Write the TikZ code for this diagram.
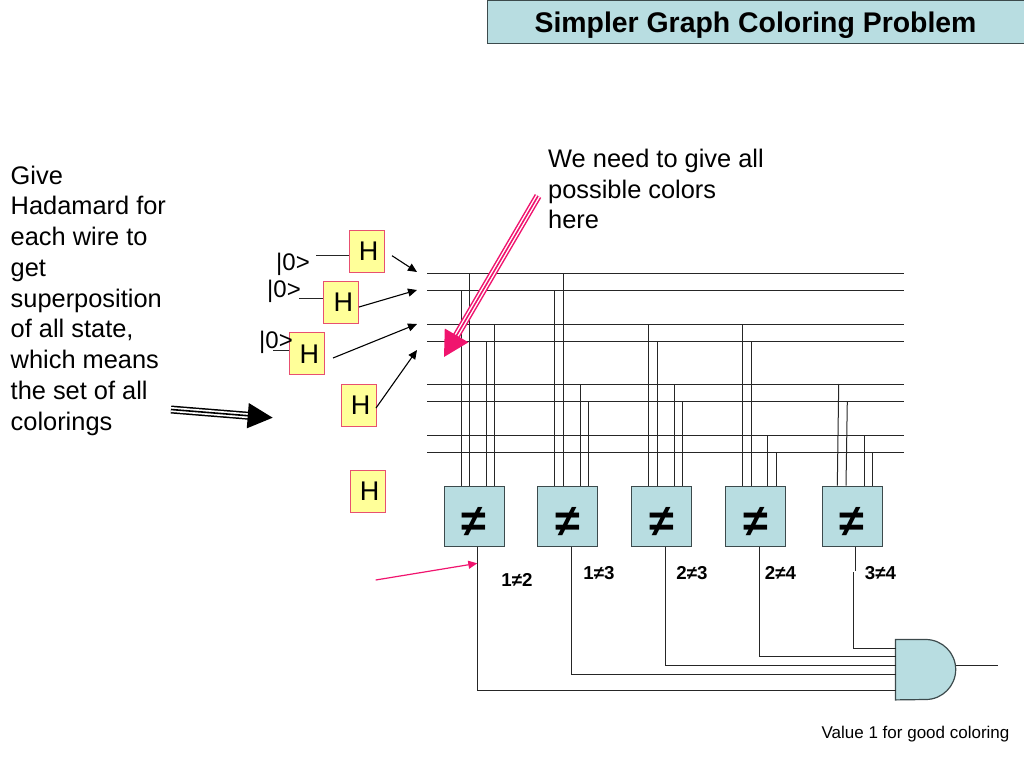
\documentclass[tikz,border=0pt]{standalone}
\usepackage{fontspec}
\setmainfont{Liberation Sans}
\usetikzlibrary{arrows.meta}
\definecolor{cBlock}{HTML}{B8DDE1}
\definecolor{cHada}{HTML}{FFFF99}
\definecolor{cPink}{HTML}{F0146E}
\definecolor{cRim}{HTML}{E85070}
\definecolor{cEdge}{HTML}{3C4A4C}
\newcommand{\bigNe}{\raisebox{-20pt}[0pt][0pt]{≠}}
\begin{document}
\begin{tikzpicture}[x=1pt,y=-1pt]
    \tikzstyle{block} = [ shape=rectangle, draw=cEdge, fill=cBlock, line width=1pt, minimum size=60pt, inner sep=0pt, font=\fontsize{45}{45}\selectfont\bfseries ];
    \tikzstyle{hada} = [ shape=rectangle, draw=cRim, fill=cHada, line width=1pt, minimum width=35pt, minimum height=42pt, inner sep=0pt, font=\fontsize{27}{27}\selectfont, execute at begin node=\hspace*{4pt} ];
    \tikzstyle{txt} = [ anchor=west, align=left, inner sep=0pt, font=\fontsize{25.4}{30.75}\selectfont ];
    \tikzstyle{ket} = [ anchor=west, inner sep=0pt, font=\fontsize{24}{24}\selectfont ];
    \tikzstyle{lbl} = [ anchor=base, inner sep=0pt, font=\fontsize{18.7}{19}\selectfont\bfseries ];
    \tikzstyle{wire} = [ draw=black!85, line width=1pt ];
    \tikzstyle{arr} = [ ->, >={Triangle[length=9pt,width=8pt]}, black, line width=1.1pt ];
    \useasboundingbox (0,0) rectangle (1024,768);

    \node (nTitle) [shape=rectangle, draw=cEdge, fill=cBlock, line width=1pt, minimum width=538pt, minimum height=43pt, inner sep=0pt, text depth=0pt, anchor=north west, font=\fontsize{28.4}{29}\selectfont\bfseries] at (487,0) {\hspace*{-2pt}Simpler Graph Coloring Problem};
    \node (nGive) [txt] at (10.5,300.5) {Give\\Hadamard for\\each wire to\\get\\superposition\\of all state,\\which means\\the set of all\\colorings};
    \node (nNeed) [txt] at (548,189) {We need to give all\\possible colors\\here};

    % the eight wires
    \foreach \y [count=\i] in {273,290,324,341,384,401,435,452} {
        \coordinate (wL\i) at (427,\y);
        \coordinate (wR\i) at (904,\y);
        \draw [wire] (wL\i) -- (wR\i);
    }

    \node (nNe1) [block] at (474,516) {\bigNe};
    \node (nNe2) [block, right of = nNe1, node distance = 93.7pt] {\bigNe};
    \node (nNe3) [block, right of = nNe2, node distance = 94pt] {\bigNe};
    \node (nNe4) [block, right of = nNe3, node distance = 94pt] {\bigNe};
    \node (nNe5) [block, right of = nNe4, node distance = 96.4pt] {\bigNe};

    \foreach \xa/\xb/\w/\b in {461/461/2/1,469.3/469.3/1/1,486.3/486.3/4/1,494.7/494.7/3/1,
        554.7/554.7/2/2,563.3/563.3/1/2,580/580/5/2,588.5/588.5/6/2,
        648.7/648.7/3/3,657/657/4/3,674/674/5/3,682.7/682.7/6/3,
        742.3/742.3/3/4,751/751/4/4,767.7/767.7/7/4,776.3/776.3/8/4,
        838.7/837.3/5/5,847.3/846/6/5,864.3/864.3/7/5,872.7/872.7/8/5} {
        \draw [wire] (\xa,0 |- wL\w) -- (\xb,0 |- nNe\b.north);
    }

    % H gates and their inputs
    \node (nH1) [hada] at (366.7,251.3) {H};
    \node (nH2) [hada] at (341.3,302.5) {H};
    \node (nH3) [hada] at (307.3,353.8) {H};
    \node (nH4) [hada] at (358.5,405.5) {H};
    \node (nH5) [hada] at (367.5,491) {H};
    \node (nKet1) [ket] at (276,264) {|0>};
    \node (nKet2) [ket] at (267,291) {|0>};
    \node (nKet3) [ket] at (259,342) {|0>};
    \coordinate (cIn1) at (316,255.7);
    \coordinate (cIn2) at (299,298.3);
    \coordinate (cIn3) at (273,350);
    \draw [wire] (cIn1) -- (cIn1 -| nH1.west);
    \draw [wire] (cIn2) -- (cIn2 -| nH2.west);
    \draw [wire] (cIn3) -- (cIn3 -| nH3.west);

    \coordinate (cS1) at (392,255.7);
    \coordinate (cE1) at (417,272);
    \coordinate (cS2) at (359,307);
    \coordinate (cE2) at (417,290);
    \coordinate (cS3) at (333,358);
    \coordinate (cE3) at (417,324);
    \coordinate (cS4) at (376,408);
    \coordinate (cE4) at (417,350);
    \foreach \i in {1,2,3,4} {
        \draw [arr] (cS\i) -- (cE\i);
    }

    % outputs into the AND gate
    \node (nAnd) [shape=rectangle, minimum size=60pt, inner sep=0pt] at (925.7,669.7) {};
    \draw [fill=cBlock, draw=cEdge, line width=1.2pt] (nAnd.north west) -- (nAnd.north) arc (90:-90:30pt) -- (nAnd.south west) -- cycle;
    \foreach \x/\y/\b in {477.7/690.7/1,571.7/674/2,665.7/665.3/3,759.3/656.7/4} {
        \draw [wire] (\x,0 |- nNe\b.south) |- (nAnd.west |- 0,\y);
    }
    \coordinate (cBreakA) at (855.7,571);
    \coordinate (cBreakB) at (853.3,572);
    \draw [wire] (855.7,0 |- nNe5.south) -- (cBreakA);
    \draw [wire] (cBreakB) |- (nAnd.west |- 0,648.3);
    \coordinate (cOut) at (998,665.3);
    \draw [wire] (cOut -| nAnd.east) -- (cOut);

    \node (nL1) [lbl] at (517,586.7) {1≠2};
    \node (nL2) [lbl] at (599,579) {1≠3};
    \node (nL3) [lbl] at (692,579) {2≠3};
    \node (nL4) [lbl] at (780.5,579) {2≠4};
    \node (nL5) [lbl] at (880.5,579) {3≠4};
    \node (nGood) [inner sep=0pt, font=\fontsize{17}{17}\selectfont] at (915.5,734.5) {Value 1 for good coloring};

    % the pink and black pointers
    \coordinate (cPinkS) at (538,196);
    \coordinate (cPinkE) at (444,357);
    \draw [cPink, line width=7.4pt, shorten >=20pt] (cPinkS) -- (cPinkE);
    \draw [white, line width=4.4pt, shorten >=20pt] (cPinkS) -- (cPinkE);
    \draw [cPink, line width=1.6pt, -{Triangle[length=25pt,width=27pt]}] (cPinkS) -- (cPinkE);
    \coordinate (cBlackS) at (171,409.5);
    \coordinate (cBlackE) at (272.7,417.7);
    \draw [black, line width=8pt, shorten >=20pt] (cBlackS) -- (cBlackE);
    \draw [white, line width=5pt, shorten >=20pt] (cBlackS) -- (cBlackE);
    \draw [black, line width=1.6pt, -{Triangle[length=25pt,width=25pt]}] (cBlackS) -- (cBlackE);
    \coordinate (cThinS) at (375.7,580);
    \coordinate (cThinE) at (477.3,563.3);
    \draw [cPink, line width=1.2pt, -{Triangle[length=9pt,width=8pt]}] (cThinS) -- (cThinE);
\end{tikzpicture}
\end{document}
